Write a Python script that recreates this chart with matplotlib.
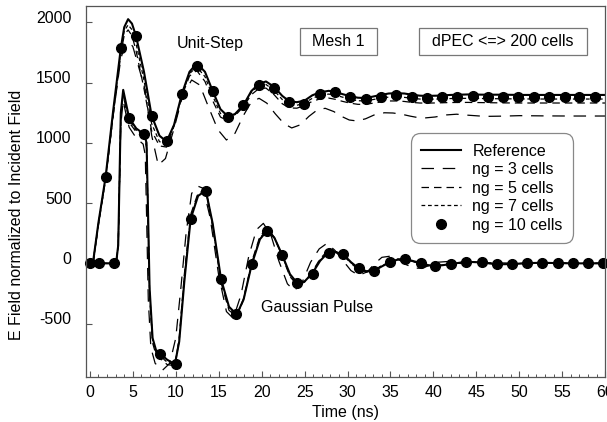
import matplotlib
matplotlib.use('Agg')
import matplotlib.pyplot as plt
import matplotlib.transforms as mtransforms
from matplotlib.patches import Rectangle
from matplotlib.ticker import MultipleLocator

plt.rcParams['font.family'] = ['Liberation Sans', 'DejaVu Sans']
plt.rcParams['font.size'] = 11.5
plt.rcParams['axes.unicode_minus'] = False

# ---- unit-step response ----
t_step = [0, 0.35, 1.0, 1.83, 2.7, 3.61, 4.0, 4.45, 4.9, 5.36, 6.3, 7.19, 8.1, 8.93, 9.8,
          10.72, 11.6, 12.45, 13.4, 14.3, 15.2, 16.1, 16.9, 17.87, 18.8, 19.66, 20.5, 21.45,
          22.4, 23.23, 24.1, 24.98, 25.9, 26.8, 27.8, 28.55, 29.4, 30.3, 31.2, 32.1, 33.0,
          33.9, 34.8, 35.7, 36.6, 37.5, 38.4, 39.2, 40.5, 42, 44, 46, 48, 50, 53, 56, 60]
step_ref = [0, 0, 340, 717, 1260, 1791, 1960, 2027, 1990, 1890, 1590, 1226, 1060, 1010, 1150,
            1409, 1590, 1661, 1590, 1431, 1280, 1218, 1240, 1312, 1430, 1489, 1510, 1465,
            1390, 1345, 1338, 1350, 1395, 1420, 1432, 1425, 1405, 1388, 1375, 1372, 1385,
            1398, 1410, 1412, 1410, 1400, 1392, 1390, 1392, 1398, 1402, 1400, 1400, 1398,
            1398, 1398, 1398]
step_ng5 = [0, 0, 320, 695, 1220, 1740, 1895, 1938, 1890, 1770, 1450, 1100, 975, 965, 1140,
            1390, 1555, 1600, 1510, 1350, 1215, 1180, 1225, 1300, 1400, 1450, 1455, 1400,
            1325, 1290, 1288, 1310, 1345, 1365, 1372, 1362, 1345, 1330, 1320, 1320, 1330,
            1340, 1348, 1348, 1344, 1336, 1331, 1330, 1332, 1335, 1336, 1334, 1332, 1331,
            1331, 1331, 1331]
step_ng7 = [0, 0, 330, 705, 1240, 1765, 1930, 1979, 1940, 1830, 1520, 1160, 1010, 995, 1150,
            1400, 1575, 1630, 1550, 1390, 1245, 1200, 1235, 1310, 1420, 1475, 1485, 1435,
            1360, 1320, 1312, 1330, 1370, 1395, 1405, 1398, 1380, 1362, 1350, 1348, 1360,
            1372, 1380, 1382, 1378, 1370, 1364, 1362, 1364, 1368, 1370, 1368, 1366, 1365,
            1364, 1364, 1364]

t_step3 = [0, 0.4, 1.0, 1.83, 2.7, 3.6, 4.1, 4.5, 5.0, 5.6, 6.4, 7.2, 7.96, 8.8, 9.8, 10.8,
           11.85, 12.8, 13.8, 14.9, 15.9, 16.9, 17.9, 18.8, 19.7, 20.6, 21.6, 22.6, 23.5,
           24.5, 25.5, 26.5, 27.4, 28.4, 29.3, 30.2, 31.1, 32.1, 33.2, 34.3, 35.3, 36.3,
           37.3, 38.2, 39.0, 40.2, 41.5, 42.7, 44, 46, 48, 50, 53, 56, 60]
step_ng3 = [0, 0, 330, 700, 1220, 1700, 1810, 1840, 1800, 1650, 1450, 1060, 816, 870, 1120,
            1390, 1522, 1480, 1300, 1110, 1024, 1080, 1230, 1340, 1370, 1330, 1240, 1160,
            1124, 1150, 1220, 1275, 1287, 1260, 1220, 1190, 1182, 1200, 1235, 1250, 1248,
            1238, 1222, 1210, 1207, 1215, 1232, 1238, 1230, 1220, 1222, 1226, 1224, 1223, 1223]

t_step10 = [0, 1.83, 3.61, 5.36, 7.19, 8.97, 10.72, 12.5, 14.3, 16.08, 17.87, 19.66, 21.45,
            23.23, 24.98, 26.8, 28.55, 30.3, 32.1, 33.9, 35.7, 37.5, 39.2, 41.0, 42.8, 44.6,
            46.4, 48.1, 49.9, 51.7, 53.5, 55.3, 57.0, 58.8]
step_ng10 = [0, 717, 1791, 1888, 1226, 1013, 1409, 1641, 1431, 1218, 1312, 1481, 1458, 1340,
             1326, 1403, 1425, 1384, 1362, 1381, 1398, 1381, 1373, 1379, 1384, 1387, 1381,
             1384, 1384, 1384, 1384, 1384, 1384, 1384]

# ---- gaussian pulse response ----
t_gauss = [0, 2.83, 3.1, 3.3, 3.45, 3.6, 3.88, 4.2, 4.57, 5.4, 6.33, 6.6, 6.75, 6.95, 7.3,
           7.7, 8.16, 9.0, 9.9, 10.4, 11.0, 11.73, 12.6, 13.5, 14.3, 15.27, 16.2, 17.1, 17.9,
           18.85, 19.8, 20.67, 21.5, 22.4, 23.3, 24.2, 25.0, 25.9, 26.8, 27.7, 28.6, 29.5,
           30.4, 31.3, 32.2, 33.1, 34.0, 34.9, 35.8, 36.7, 37.6, 38.5, 39.4, 40.2, 41.1,
           42.0, 43.8, 45.6, 47.4, 49.1, 50.9, 52.7, 54.5, 56.3, 58.0, 60]
gauss_ref = [0, 0, 30, 150, 700, 1250, 1440, 1330, 1207, 1120, 1071, 1000, 500, -200, -620,
             -720, -748, -800, -837, -650, -150, 368, 560, 605, 330, -130, -360, -425, -300,
             -8, 200, 275, 210, 69, -90, -168, -150, -83, 20, 88, 92, 75, 10, -42, -65, -61,
             -25, 8, 30, 36, 20, 2, -15, -22, -15, -6, 13, 8, -8, -6, 2, 5, 2, 0, 0, 0]
gauss_ng5 = [0, 0, 30, 150, 680, 1210, 1400, 1290, 1170, 1090, 1045, 960, 440, -260, -660,
             -760, -790, -840, -850, -620, -90, 405, 585, 610, 305, -160, -390, -442, -290,
             15, 225, 292, 215, 55, -110, -185, -155, -70, 38, 105, 100, 68, 0, -52, -72,
             -60, -16, 16, 36, 36, 15, -3, -20, -23, -12, -4, 13, 6, -8, -5, 2, 5, 2, 0, 0, 0]
gauss_ng7 = [0, 0, 30, 150, 690, 1230, 1420, 1310, 1190, 1105, 1060, 980, 470, -230, -640,
             -740, -770, -820, -845, -640, -120, 385, 570, 608, 320, -145, -375, -435, -300,
             0, 210, 282, 212, 62, -100, -175, -152, -78, 28, 95, 95, 72, 5, -47, -68, -60,
             -20, 12, 32, 36, 18, 0, -17, -22, -14, -5, 13, 7, -8, -6, 2, 5, 2, 0, 0, 0]

t_gauss3 = [0, 2.83, 3.1, 3.3, 3.45, 3.6, 3.88, 4.2, 4.57, 5.4, 6.2, 6.45, 6.6, 6.8, 7.1, 7.6,
            8.47, 9.3, 10.0, 10.6, 11.2, 11.85, 12.6, 13.2, 14.0, 15.0, 15.9, 16.7, 17.6,
            18.5, 19.4, 20.2, 21.1, 22.0, 23.0, 23.8, 24.7, 25.7, 26.7, 27.6, 28.5, 29.5,
            30.4, 31.3, 32.3, 33.2, 34.0, 35.0, 36.0, 36.8, 37.8, 38.7, 39.6, 40.6, 41.6,
            43.0, 44.8, 46.6, 48.5, 50.5, 53, 56, 60]
gauss_ng3 = [0, 0, 30, 140, 650, 1150, 1350, 1240, 1130, 1040, 990, 900, 400, -300, -700,
             -830, -886, -830, -620, -200, 250, 581, 640, 623, 380, -100, -400, -457, -260,
             60, 280, 332, 230, 20, -170, -227, -160, 10, 120, 166, 110, 20, -60, -100, -70,
             0, 50, 60, 30, -10, -40, -40, -15, 10, 15, 0, -10, 5, 3, -3, 2, 0, 0]

t_gauss10 = [1.05, 2.83, 4.57, 6.33, 8.16, 9.99, 11.74, 13.49, 15.23, 17.0, 18.85, 20.6, 22.4,
             24.1, 25.96, 27.8, 29.5, 31.3, 33.1, 34.9, 36.7, 38.5, 40.2, 42.0, 43.8, 45.6,
             47.4, 49.1, 50.9, 52.7, 54.5, 56.3, 58.0, 59.8]
gauss_ng10 = [0, 0, 1207, 1071, -751, -839, 368, 600, -133, -419, -8, 271, 69, -166, -89, 83,
              75, -42, -61, 8, 36, 2, -22, -6, 13, 8, -8, -6, 2, 5, 2, 0, 0, 0]

fig = plt.figure(figsize=(6.07, 4.22), dpi=100)
ax = fig.add_axes([0.141, 0.107, 0.856, 0.879])

ls3 = (0, (10, 7))
ls5 = (0, (6, 4))
ls7 = (0, (3, 2.2))
ax.plot(t_step, step_ref, color='black', lw=1.5, label='Reference')
ax.plot(t_step3, step_ng3, color='black', lw=0.9, ls=ls3, label='ng = 3 cells')
ax.plot(t_step, step_ng5, color='black', lw=0.9, ls=ls5, label='ng = 5 cells')
ax.plot(t_step, step_ng7, color='black', lw=0.9, ls=ls7, label='ng = 7 cells')
ax.plot(t_step10, step_ng10, 'o', color='black', ms=7, clip_on=False, label='ng = 10 cells')

ax.plot(t_gauss, gauss_ref, color='black', lw=1.5)
ax.plot(t_gauss3, gauss_ng3, color='black', lw=0.9, ls=ls3)
ax.plot(t_gauss, gauss_ng5, color='black', lw=0.9, ls=ls5)
ax.plot(t_gauss, gauss_ng7, color='black', lw=0.9, ls=ls7)
ax.plot(t_gauss10, gauss_ng10, 'o', color='black', ms=7, clip_on=False)

ax.set_xlim(-0.5, 60)
ax.set_ylim(-942, 2137)
ax.xaxis.set_major_locator(MultipleLocator(5))
ax.xaxis.set_minor_locator(MultipleLocator(1))
ax.yaxis.set_major_locator(MultipleLocator(500))
ax.tick_params(which='both', direction='in', top=False, right=False, colors='#555555',
               labelcolor='black', labelsize=11.5)
ax.tick_params(which='major', length=4.5, width=0.8)
ax.tick_params(which='minor', length=2.2, width=0.7)
ax.tick_params(axis='x', pad=6)
ax.tick_params(axis='y', pad=10)
for s in ax.spines.values():
    s.set_color('#555555')
    s.set_linewidth(0.9)

# y tick labels sit a little above their tick marks
off = mtransforms.ScaledTranslation(0, 4 / 72, fig.dpi_scale_trans)
for lab in ax.get_yticklabels():
    lab.set_transform(lab.get_transform() + off)

ax.set_xlabel('Time (ns)', fontsize=11.5)
ax.set_ylabel('E Field normalized to Incident Field', fontsize=11.5)
ax.xaxis.set_label_coords(0.501, -0.075)
ax.yaxis.set_label_coords(-0.118, 0.436)

ax.text(0.2394, 0.900, 'Unit-Step', transform=ax.transAxes, ha='center', va='center')
ax.text(0.4464, 0.188, 'Gaussian Pulse', transform=ax.transAxes, ha='center', va='center')
ax.add_patch(Rectangle((0.4127, 0.8678), 0.1477, 0.0728, transform=ax.transAxes,
                       fill=False, edgecolor='#777777', lw=0.9))
ax.text(0.4866, 0.904, 'Mesh 1', transform=ax.transAxes, ha='center', va='center')
ax.add_patch(Rectangle((0.6418, 0.8678), 0.3236, 0.0728, transform=ax.transAxes,
                       fill=False, edgecolor='#777777', lw=0.9))
ax.text(0.8036, 0.904, 'dPEC <=> 200 cells', transform=ax.transAxes, ha='center', va='center')

leg = ax.legend(loc='upper left', bbox_to_anchor=(0.626, 0.657), borderaxespad=0,
                fontsize=11.5, numpoints=1, handlelength=2.5, handletextpad=0.7,
                labelspacing=0.22, borderpad=0.65, fancybox=True, framealpha=1)
leg.get_frame().set_edgecolor('#888888')
leg.get_frame().set_linewidth(0.9)
leg.get_frame().set_boxstyle('round,pad=0,rounding_size=0.6')

fig.savefig('out.png', dpi=100)
